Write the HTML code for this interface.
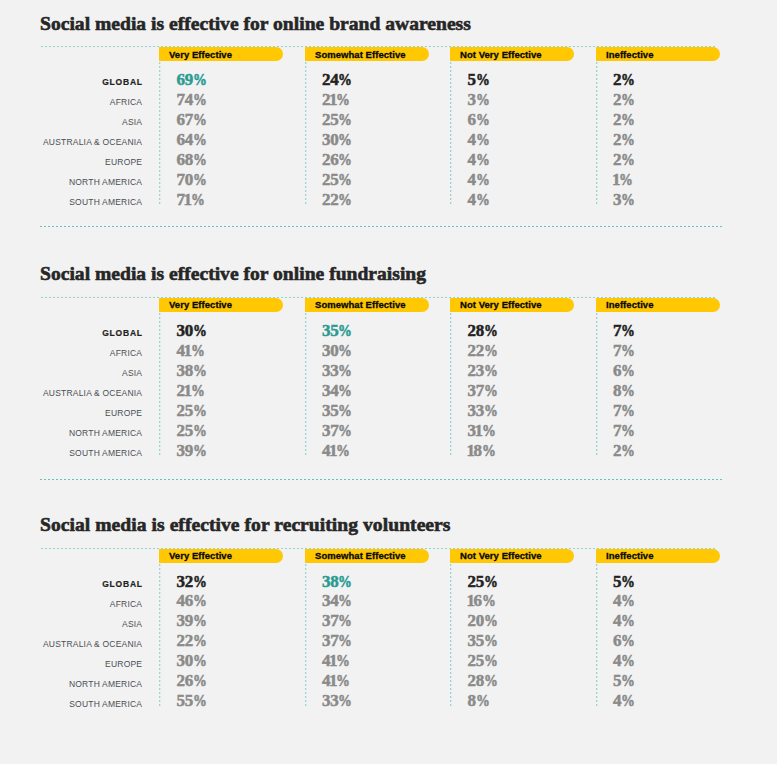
<!DOCTYPE html><html><head><meta charset="utf-8"><style>
*{margin:0;padding:0;box-sizing:border-box}
html,body{width:777px;height:764px;overflow:hidden;background:#f2f2f2}
body{position:relative}
.sec{position:absolute;left:0;width:777px;height:250px}
.t{position:absolute;left:40px;top:13.5px;font:bold 19.6px/1 "Liberation Serif",serif;color:#262626;-webkit-text-stroke:0.6px #262626;white-space:nowrap}
.hl{position:absolute;left:41px;width:674px;height:1px;top:46px;background:repeating-linear-gradient(90deg,#93d2ce 0 2px,transparent 2px 4px)}
.bl{position:absolute;left:40px;width:683px;height:1px;top:226px;background:repeating-linear-gradient(90deg,#66c2bd 0 2px,transparent 2px 4px)}
.tab{position:absolute;top:47px;height:14px;width:124px;background:#ffc802;border-radius:0 7px 7px 0}
.tt{position:absolute;top:49.5px;font:bold 9.5px/1 "Liberation Sans",sans-serif;letter-spacing:0.05px;color:#0a0a0a;-webkit-text-stroke:0.3px #0a0a0a;white-space:nowrap}
.vl{position:absolute;top:62px;width:1px;height:142px;background:repeating-linear-gradient(180deg,#9ad5d1 0 2px,transparent 2px 4px)}
.vl2{position:absolute;top:62px;width:1px;height:142px;background:repeating-linear-gradient(180deg,#d2ebe9 0 2px,transparent 2px 4px)}
.lab{position:absolute;right:634.8px;font:8.5px/1 "Liberation Sans",sans-serif;color:#4b4d52;letter-spacing:0.2px;white-space:nowrap}
.lab.g{font-weight:bold;color:#222;letter-spacing:0.8px;right:634.2px;-webkit-text-stroke:0.2px #222}
.n{position:absolute;font:bold 17px/1 "Liberation Serif",serif;letter-spacing:-0.3px;color:#8a8a8a;-webkit-text-stroke:0.5px #8a8a8a;white-space:nowrap}
.n b{font-weight:bold;margin:0 -1.1px}
.n i{font-style:normal;font-size:16.5px;display:inline-block;transform:scaleX(.84);transform-origin:0 0}
.n.d{color:#222;-webkit-text-stroke-color:#222}
.n.h{color:#2a9b92;-webkit-text-stroke-color:#2a9b92}
</style></head><body>
<div class="sec" style="top:0px">
<div class="t" style="letter-spacing:0px">Social media is effective for online brand awareness</div>
<div class="hl"></div>
<div class="tab" style="left:159px"></div><div class="tt" style="left:169px">Very Effective</div>
<div class="vl" style="left:159px"></div><div class="vl2" style="left:160px"></div>
<div class="tab" style="left:305px"></div><div class="tt" style="left:315px">Somewhat Effective</div>
<div class="vl" style="left:305px"></div><div class="vl2" style="left:306px"></div>
<div class="tab" style="left:450px"></div><div class="tt" style="left:460px">Not Very Effective</div>
<div class="vl" style="left:450px"></div><div class="vl2" style="left:451px"></div>
<div class="tab" style="left:596px"></div><div class="tt" style="left:606px">Ineffective</div>
<div class="vl" style="left:596px"></div><div class="vl2" style="left:597px"></div>
<div class="lab g" style="top:78px">GLOBAL</div>
<div class="n h" style="top:71.0px;left:176.5px">69<i>%</i></div>
<div class="n d" style="top:71.0px;left:322.0px">24<i>%</i></div>
<div class="n d" style="top:71.0px;left:467.5px">5<i>%</i></div>
<div class="n d" style="top:71.0px;left:613.0px">2<i>%</i></div>
<div class="lab" style="top:98px">AFRICA</div>
<div class="n" style="top:91.05px;left:176.5px">74<i>%</i></div>
<div class="n" style="top:91.05px;left:322.0px">2<b>1</b><i>%</i></div>
<div class="n" style="top:91.05px;left:467.5px">3<i>%</i></div>
<div class="n" style="top:91.05px;left:613.0px">2<i>%</i></div>
<div class="lab" style="top:118px">ASIA</div>
<div class="n" style="top:111.1px;left:176.5px">67<i>%</i></div>
<div class="n" style="top:111.1px;left:322.0px">25<i>%</i></div>
<div class="n" style="top:111.1px;left:467.5px">6<i>%</i></div>
<div class="n" style="top:111.1px;left:613.0px">2<i>%</i></div>
<div class="lab" style="top:138px">AUSTRALIA &amp; OCEANIA</div>
<div class="n" style="top:131.15px;left:176.5px">64<i>%</i></div>
<div class="n" style="top:131.15px;left:322.0px">30<i>%</i></div>
<div class="n" style="top:131.15px;left:467.5px">4<i>%</i></div>
<div class="n" style="top:131.15px;left:613.0px">2<i>%</i></div>
<div class="lab" style="top:158px">EUROPE</div>
<div class="n" style="top:151.2px;left:176.5px">68<i>%</i></div>
<div class="n" style="top:151.2px;left:322.0px">26<i>%</i></div>
<div class="n" style="top:151.2px;left:467.5px">4<i>%</i></div>
<div class="n" style="top:151.2px;left:613.0px">2<i>%</i></div>
<div class="lab" style="top:178px">NORTH AMERICA</div>
<div class="n" style="top:171.25px;left:176.5px">70<i>%</i></div>
<div class="n" style="top:171.25px;left:322.0px">25<i>%</i></div>
<div class="n" style="top:171.25px;left:467.5px">4<i>%</i></div>
<div class="n" style="top:171.25px;left:613.0px"><b>1</b><i>%</i></div>
<div class="lab" style="top:198px">SOUTH AMERICA</div>
<div class="n" style="top:191.3px;left:176.5px">7<b>1</b><i>%</i></div>
<div class="n" style="top:191.3px;left:322.0px">22<i>%</i></div>
<div class="n" style="top:191.3px;left:467.5px">4<i>%</i></div>
<div class="n" style="top:191.3px;left:613.0px">3<i>%</i></div>
<div class="bl" style="top:226px"></div>
</div>
<div class="sec" style="top:250.5px">
<div class="t" style="letter-spacing:0px">Social media is effective for online fundraising</div>
<div class="hl"></div>
<div class="tab" style="left:159px"></div><div class="tt" style="left:169px">Very Effective</div>
<div class="vl" style="left:159px"></div><div class="vl2" style="left:160px"></div>
<div class="tab" style="left:305px"></div><div class="tt" style="left:315px">Somewhat Effective</div>
<div class="vl" style="left:305px"></div><div class="vl2" style="left:306px"></div>
<div class="tab" style="left:450px"></div><div class="tt" style="left:460px">Not Very Effective</div>
<div class="vl" style="left:450px"></div><div class="vl2" style="left:451px"></div>
<div class="tab" style="left:596px"></div><div class="tt" style="left:606px">Ineffective</div>
<div class="vl" style="left:596px"></div><div class="vl2" style="left:597px"></div>
<div class="lab g" style="top:78px">GLOBAL</div>
<div class="n d" style="top:71.0px;left:176.5px">30<i>%</i></div>
<div class="n h" style="top:71.0px;left:322.0px">35<i>%</i></div>
<div class="n d" style="top:71.0px;left:467.5px">28<i>%</i></div>
<div class="n d" style="top:71.0px;left:613.0px">7<i>%</i></div>
<div class="lab" style="top:98px">AFRICA</div>
<div class="n" style="top:91.0px;left:176.5px">4<b>1</b><i>%</i></div>
<div class="n" style="top:91.0px;left:322.0px">30<i>%</i></div>
<div class="n" style="top:91.0px;left:467.5px">22<i>%</i></div>
<div class="n" style="top:91.0px;left:613.0px">7<i>%</i></div>
<div class="lab" style="top:118px">ASIA</div>
<div class="n" style="top:111.0px;left:176.5px">38<i>%</i></div>
<div class="n" style="top:111.0px;left:322.0px">33<i>%</i></div>
<div class="n" style="top:111.0px;left:467.5px">23<i>%</i></div>
<div class="n" style="top:111.0px;left:613.0px">6<i>%</i></div>
<div class="lab" style="top:138px">AUSTRALIA &amp; OCEANIA</div>
<div class="n" style="top:131.0px;left:176.5px">2<b>1</b><i>%</i></div>
<div class="n" style="top:131.0px;left:322.0px">34<i>%</i></div>
<div class="n" style="top:131.0px;left:467.5px">37<i>%</i></div>
<div class="n" style="top:131.0px;left:613.0px">8<i>%</i></div>
<div class="lab" style="top:158px">EUROPE</div>
<div class="n" style="top:151.0px;left:176.5px">25<i>%</i></div>
<div class="n" style="top:151.0px;left:322.0px">35<i>%</i></div>
<div class="n" style="top:151.0px;left:467.5px">33<i>%</i></div>
<div class="n" style="top:151.0px;left:613.0px">7<i>%</i></div>
<div class="lab" style="top:178px">NORTH AMERICA</div>
<div class="n" style="top:171.0px;left:176.5px">25<i>%</i></div>
<div class="n" style="top:171.0px;left:322.0px">37<i>%</i></div>
<div class="n" style="top:171.0px;left:467.5px">3<b>1</b><i>%</i></div>
<div class="n" style="top:171.0px;left:613.0px">7<i>%</i></div>
<div class="lab" style="top:198px">SOUTH AMERICA</div>
<div class="n" style="top:191.0px;left:176.5px">39<i>%</i></div>
<div class="n" style="top:191.0px;left:322.0px">4<b>1</b><i>%</i></div>
<div class="n" style="top:191.0px;left:467.5px"><b>1</b>8<i>%</i></div>
<div class="n" style="top:191.0px;left:613.0px">2<i>%</i></div>
<div class="bl" style="top:228.5px"></div>
</div>
<div class="sec" style="top:501.5px">
<div class="t" style="letter-spacing:0.04px">Social media is effective for recruiting volunteers</div>
<div class="hl"></div>
<div class="tab" style="left:159px"></div><div class="tt" style="left:169px">Very Effective</div>
<div class="vl" style="left:159px"></div><div class="vl2" style="left:160px"></div>
<div class="tab" style="left:305px"></div><div class="tt" style="left:315px">Somewhat Effective</div>
<div class="vl" style="left:305px"></div><div class="vl2" style="left:306px"></div>
<div class="tab" style="left:450px"></div><div class="tt" style="left:460px">Not Very Effective</div>
<div class="vl" style="left:450px"></div><div class="vl2" style="left:451px"></div>
<div class="tab" style="left:596px"></div><div class="tt" style="left:606px">Ineffective</div>
<div class="vl" style="left:596px"></div><div class="vl2" style="left:597px"></div>
<div class="lab g" style="top:78px">GLOBAL</div>
<div class="n d" style="top:71.0px;left:176.5px">32<i>%</i></div>
<div class="n h" style="top:71.0px;left:322.0px">38<i>%</i></div>
<div class="n d" style="top:71.0px;left:467.5px">25<i>%</i></div>
<div class="n d" style="top:71.0px;left:613.0px">5<i>%</i></div>
<div class="lab" style="top:98px">AFRICA</div>
<div class="n" style="top:90.87px;left:176.5px">46<i>%</i></div>
<div class="n" style="top:90.87px;left:322.0px">34<i>%</i></div>
<div class="n" style="top:90.87px;left:467.5px"><b>1</b>6<i>%</i></div>
<div class="n" style="top:90.87px;left:613.0px">4<i>%</i></div>
<div class="lab" style="top:118px">ASIA</div>
<div class="n" style="top:110.74000000000001px;left:176.5px">39<i>%</i></div>
<div class="n" style="top:110.74000000000001px;left:322.0px">37<i>%</i></div>
<div class="n" style="top:110.74000000000001px;left:467.5px">20<i>%</i></div>
<div class="n" style="top:110.74000000000001px;left:613.0px">4<i>%</i></div>
<div class="lab" style="top:138px">AUSTRALIA &amp; OCEANIA</div>
<div class="n" style="top:130.61px;left:176.5px">22<i>%</i></div>
<div class="n" style="top:130.61px;left:322.0px">37<i>%</i></div>
<div class="n" style="top:130.61px;left:467.5px">35<i>%</i></div>
<div class="n" style="top:130.61px;left:613.0px">6<i>%</i></div>
<div class="lab" style="top:158px">EUROPE</div>
<div class="n" style="top:150.48000000000002px;left:176.5px">30<i>%</i></div>
<div class="n" style="top:150.48000000000002px;left:322.0px">4<b>1</b><i>%</i></div>
<div class="n" style="top:150.48000000000002px;left:467.5px">25<i>%</i></div>
<div class="n" style="top:150.48000000000002px;left:613.0px">4<i>%</i></div>
<div class="lab" style="top:178px">NORTH AMERICA</div>
<div class="n" style="top:170.35000000000002px;left:176.5px">26<i>%</i></div>
<div class="n" style="top:170.35000000000002px;left:322.0px">4<b>1</b><i>%</i></div>
<div class="n" style="top:170.35000000000002px;left:467.5px">28<i>%</i></div>
<div class="n" style="top:170.35000000000002px;left:613.0px">5<i>%</i></div>
<div class="lab" style="top:198px">SOUTH AMERICA</div>
<div class="n" style="top:190.22px;left:176.5px">55<i>%</i></div>
<div class="n" style="top:190.22px;left:322.0px">33<i>%</i></div>
<div class="n" style="top:190.22px;left:467.5px">8<i>%</i></div>
<div class="n" style="top:190.22px;left:613.0px">4<i>%</i></div>
</div>
</body></html>
